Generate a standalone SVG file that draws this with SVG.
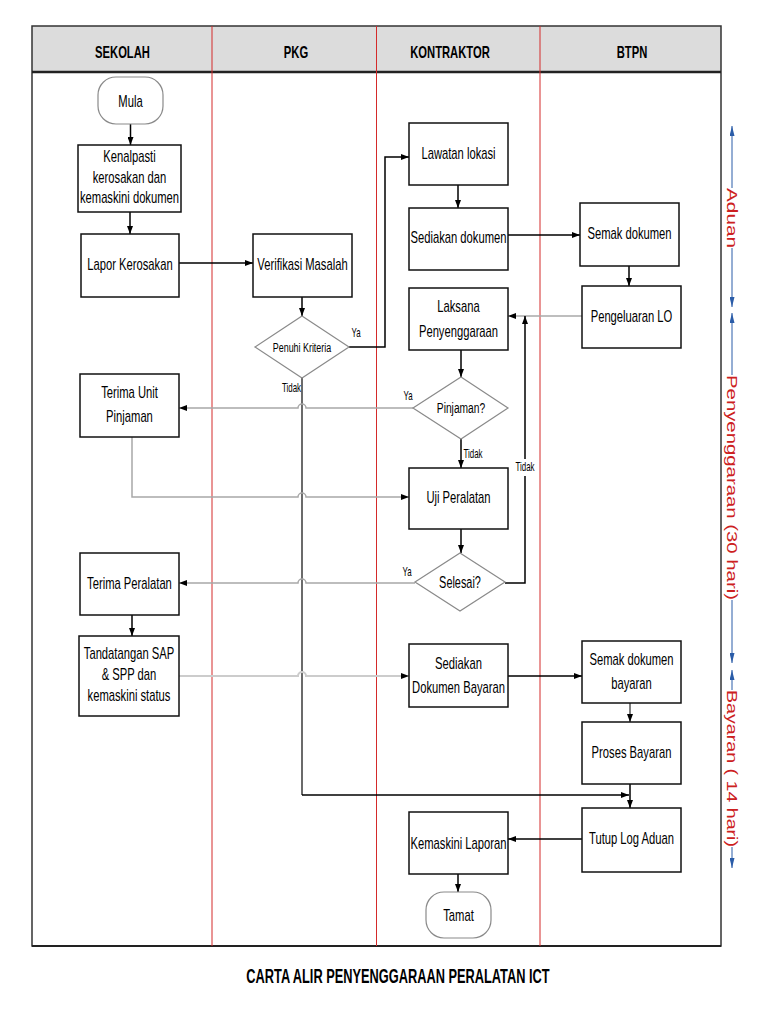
<svg xmlns="http://www.w3.org/2000/svg" width="768" height="1024" viewBox="0 0 768 1024">
<defs>
<marker id="ah" viewBox="0 0 8 6" refX="8" refY="3" markerWidth="8" markerHeight="6" markerUnits="userSpaceOnUse" orient="auto"><path d="M0,0 L8,3 L0,6 z" fill="#000"/></marker>
<marker id="bh" viewBox="0 0 10 5" refX="10" refY="2.5" markerWidth="10" markerHeight="5" markerUnits="userSpaceOnUse" orient="auto"><path d="M0,0 L10,2.5 L0,5 z" fill="#2a5ca8"/></marker>
</defs>
<style>
.box{fill:#fff;stroke:#111;stroke-width:1.5}
.term{fill:#fff;stroke:#8a8a8a;stroke-width:1.2}
.dia{fill:#fff;stroke:#8a8a8a;stroke-width:1.2}
.t{font-family:"Liberation Sans",Arial,sans-serif;font-size:17px;fill:#000;text-anchor:middle}
.hd{font-family:"Liberation Sans",Arial,sans-serif;font-size:17px;font-weight:bold;fill:#000;text-anchor:middle}
.lb{font-family:"Liberation Sans",Arial,sans-serif;font-size:12px;fill:#000;text-anchor:middle}
.vt{font-family:"Liberation Sans",Arial,sans-serif;font-size:15px;fill:#cc2020;text-anchor:middle}
.c{fill:none;stroke:#000;stroke-width:1.5}
.cg{fill:none;stroke:#a8a8a8;stroke-width:1.5}
.cl{fill:none;stroke:#cccccc;stroke-width:2}
.cd{fill:none;stroke:#3a3a3a;stroke-width:1.5}
.ar{marker-end:url(#ah)}
.lane{stroke:#d42a2a;stroke-width:1}
.bl{stroke:#2a5ca8;stroke-width:1;marker-end:url(#bh)}
</style>
<rect width="768" height="1024" fill="#fff"/>
<g id="frame">
<rect x="32" y="26" width="689" height="46" fill="#dcdcdc"/>
<rect x="32" y="26" width="689" height="920" fill="none" stroke="#333" stroke-width="1.5"/>
<line x1="32" y1="72" x2="721" y2="72" stroke="#222" stroke-width="2.5"/>
<line x1="32" y1="946" x2="721" y2="946" stroke="#222" stroke-width="2"/>
<line class="lane" x1="212" y1="26" x2="212" y2="946"/>
<line class="lane" x1="376.5" y1="26" x2="376.5" y2="946"/>
<line class="lane" x1="540" y1="26" x2="540" y2="946"/>
<text class="hd" x="122.5" y="58" transform="matrix(0.66 0 0 1 41.65 0)">SEKOLAH</text>
<text class="hd" x="296" y="58" transform="matrix(0.66 0 0 1 100.64 0)">PKG</text>
<text class="hd" x="450" y="58" transform="matrix(0.66 0 0 1 153 0)">KONTRAKTOR</text>
<text class="hd" x="632" y="58" transform="matrix(0.66 0 0 1 214.88 0)">BTPN</text>
</g>
<g id="connectors">
<path class="c ar" d="M130.5,124 V145"/>
<path class="c ar" d="M130,212 V234"/>
<path class="c ar" d="M179,263 H253"/>
<path class="c ar" d="M302,297 V316"/>
<path class="c ar" d="M349,347 H385 V157 H409"/>
<path class="cd" d="M302,378 V795"/>
<path class="c ar" d="M302,795 H629"/>
<path class="c ar" d="M458,185 V208"/>
<path class="c ar" d="M508,235 H580"/>
<path class="c ar" d="M629,266 V286"/>
<path class="cg ar" d="M582,316 H508"/>
<path class="c ar" d="M461,350 V377"/>
<path class="cg ar" d="M413,408 H306 A4,4 0 0 0 298,408 H179"/>
<path class="c ar" d="M461,439 V468"/>
<path class="cg ar" d="M132,437 V497 H298 A4,4 0 0 1 306,497 H409"/>
<path class="c ar" d="M461,529 V553"/>
<path class="c ar" d="M505,583 H525 V316"/>
<path class="cg ar" d="M415,583 H306 A4,4 0 0 0 298,583 H179"/>
<path class="c ar" d="M132,615 V636"/>
<path class="cl ar" d="M179,676 H298 A4,4 0 0 1 306,676 H409"/>
<path class="c ar" d="M508,676 H582"/>
<path class="c ar" d="M630,703 V722" style="stroke-width:1"/>
<path class="c ar" d="M630,784 V808"/>
<path class="c ar" d="M582,839 H508"/>
<path class="c ar" d="M458,874 V892"/>
<rect x="515" y="459" width="20" height="17" fill="#fff"/>
<text class="lb" x="356" y="337" transform="matrix(0.66 0 0 1 121.04 0)">Ya</text>
<text class="lb" x="291.5" y="392" transform="matrix(0.66 0 0 1 99.11 0)">Tidak</text>
<text class="lb" x="408" y="400" transform="matrix(0.66 0 0 1 138.72 0)">Ya</text>
<text class="lb" x="473" y="458" transform="matrix(0.66 0 0 1 160.82 0)">Tidak</text>
<text class="lb" x="525" y="471" transform="matrix(0.66 0 0 1 178.5 0)">Tidak</text>
<text class="lb" x="407" y="576" transform="matrix(0.66 0 0 1 138.38 0)">Ya</text>
</g>
<g id="mula"><rect class="term" x="98" y="77" width="65" height="47" rx="18"/><text class="t" x="130.5" y="107" transform="matrix(0.66 0 0 1 44.37 0)">Mula</text></g>
<g id="kenalpasti"><rect class="box" x="78" y="145" width="103" height="67"/><text class="t" transform="matrix(0.66 0 0 1 44.03 0)"><tspan x="129.5" y="162">Kenalpasti</tspan><tspan x="129.5" y="183">kerosakan dan</tspan><tspan x="129.5" y="203">kemaskini dokumen</tspan></text></g>
<g id="lapor"><rect class="box" x="81" y="234" width="98" height="63"/><text class="t" x="130" y="270" transform="matrix(0.66 0 0 1 44.2 0)">Lapor Kerosakan</text></g>
<g id="verifikasi"><rect class="box" x="253" y="234" width="99" height="63"/><text class="t" x="302.5" y="270" transform="matrix(0.66 0 0 1 102.85 0)">Verifikasi Masalah</text></g>
<g id="penuhi"><polygon class="dia" points="302,316 349,347 302,378 255,347"/><text class="t" x="302" y="352" style="font-size:13.5px" transform="matrix(0.66 0 0 1 102.68 0)">Penuhi Kriteria</text></g>
<g id="lawatan"><rect class="box" x="409" y="123" width="99" height="62"/><text class="t" x="458.5" y="159" transform="matrix(0.66 0 0 1 155.89 0)">Lawatan lokasi</text></g>
<g id="sediakan"><rect class="box" x="409" y="208" width="99" height="62"/><text class="t" x="458.5" y="243" transform="matrix(0.66 0 0 1 155.89 0)">Sediakan dokumen</text></g>
<g id="semak"><rect class="box" x="580" y="203" width="99" height="63"/><text class="t" x="629.5" y="239" transform="matrix(0.66 0 0 1 214.03 0)">Semak dokumen</text></g>
<g id="pengeluaran"><rect class="box" x="582" y="286" width="99" height="62"/><text class="t" x="631.5" y="322" transform="matrix(0.66 0 0 1 214.71 0)">Pengeluaran LO</text></g>
<g id="laksana"><rect class="box" x="409" y="288" width="99" height="62"/><text class="t" transform="matrix(0.66 0 0 1 155.89 0)"><tspan x="458.5" y="312">Laksana</tspan><tspan x="458.5" y="337">Penyenggaraan</tspan></text></g>
<g id="pinjaman"><polygon class="dia" points="461,377 508,408 461,439 413,408"/><text class="t" x="461" y="413" style="font-size:15.5px" transform="matrix(0.66 0 0 1 156.74 0)">Pinjaman?</text></g>
<g id="terimaunit"><rect class="box" x="80" y="374" width="99" height="63"/><text class="t" transform="matrix(0.66 0 0 1 44.03 0)"><tspan x="129.5" y="398">Terima Unit</tspan><tspan x="129.5" y="422">Pinjaman</tspan></text></g>
<g id="uji"><rect class="box" x="409" y="468" width="99" height="61"/><text class="t" x="458.5" y="503" transform="matrix(0.66 0 0 1 155.89 0)">Uji Peralatan</text></g>
<g id="selesai"><polygon class="dia" points="460,553 505,582 460,611 415,582"/><text class="t" x="460" y="588" style="font-size:16.5px" transform="matrix(0.66 0 0 1 156.4 0)">Selesai?</text></g>
<g id="terimaperalatan"><rect class="box" x="80" y="553" width="99" height="62"/><text class="t" x="129.5" y="589" transform="matrix(0.66 0 0 1 44.03 0)">Terima Peralatan</text></g>
<g id="tandatangan"><rect class="box" x="79" y="636" width="100" height="80"/><text class="t" transform="matrix(0.66 0 0 1 43.86 0)"><tspan x="129" y="659">Tandatangan SAP</tspan><tspan x="129" y="680">&amp; SPP dan</tspan><tspan x="129" y="701">kemaskini status</tspan></text></g>
<g id="sediakanbayaran"><rect class="box" x="409" y="644" width="99" height="63"/><text class="t" transform="matrix(0.66 0 0 1 155.89 0)"><tspan x="458.5" y="669">Sediakan</tspan><tspan x="458.5" y="693">Dokumen Bayaran</tspan></text></g>
<g id="semakbayaran"><rect class="box" x="582" y="641" width="99" height="62"/><text class="t" transform="matrix(0.66 0 0 1 214.71 0)"><tspan x="631.5" y="665">Semak dokumen</tspan><tspan x="631.5" y="689">bayaran</tspan></text></g>
<g id="proses"><rect class="box" x="582" y="722" width="99" height="62"/><text class="t" x="631.5" y="758" transform="matrix(0.66 0 0 1 214.71 0)">Proses Bayaran</text></g>
<g id="tutup"><rect class="box" x="582" y="808" width="99" height="64"/><text class="t" x="631.5" y="844" transform="matrix(0.66 0 0 1 214.71 0)">Tutup Log Aduan</text></g>
<g id="kemaskini"><rect class="box" x="409" y="812" width="99" height="62"/><text class="t" x="458.5" y="849" transform="matrix(0.66 0 0 1 155.89 0)">Kemaskini Laporan</text></g>
<g id="tamat"><rect class="term" x="426" y="892" width="65" height="46" rx="18"/><text class="t" x="458.5" y="921" transform="matrix(0.66 0 0 1 155.89 0)">Tamat</text></g>
<g id="timeline">
<line class="bl" x1="732" y1="188" x2="732" y2="126"/>
<line class="bl" x1="732" y1="248" x2="732" y2="307"/>
<line class="bl" x1="732" y1="375" x2="732" y2="313"/>
<line class="bl" x1="732" y1="600" x2="732" y2="663"/>
<line class="bl" x1="732" y1="690" x2="732" y2="670"/>
<line class="bl" x1="732" y1="847" x2="732" y2="868"/>
<text class="vt" transform="translate(727,218) rotate(90)" x="0" y="0" textLength="60" lengthAdjust="spacingAndGlyphs">Aduan</text>
<text class="vt" transform="translate(727,487.5) rotate(90)" x="0" y="0" textLength="225" lengthAdjust="spacingAndGlyphs">Penyenggaraan (30 hari)</text>
<text class="vt" transform="translate(727,768.5) rotate(90)" x="0" y="0" textLength="157" lengthAdjust="spacingAndGlyphs">Bayaran ( 14 hari)</text>
</g>
<text class="hd" x="398" y="983" style="font-size:21px" transform="matrix(0.61 0 0 1 155.22 0)">CARTA ALIR PENYENGGARAAN PERALATAN ICT</text>
</svg>
